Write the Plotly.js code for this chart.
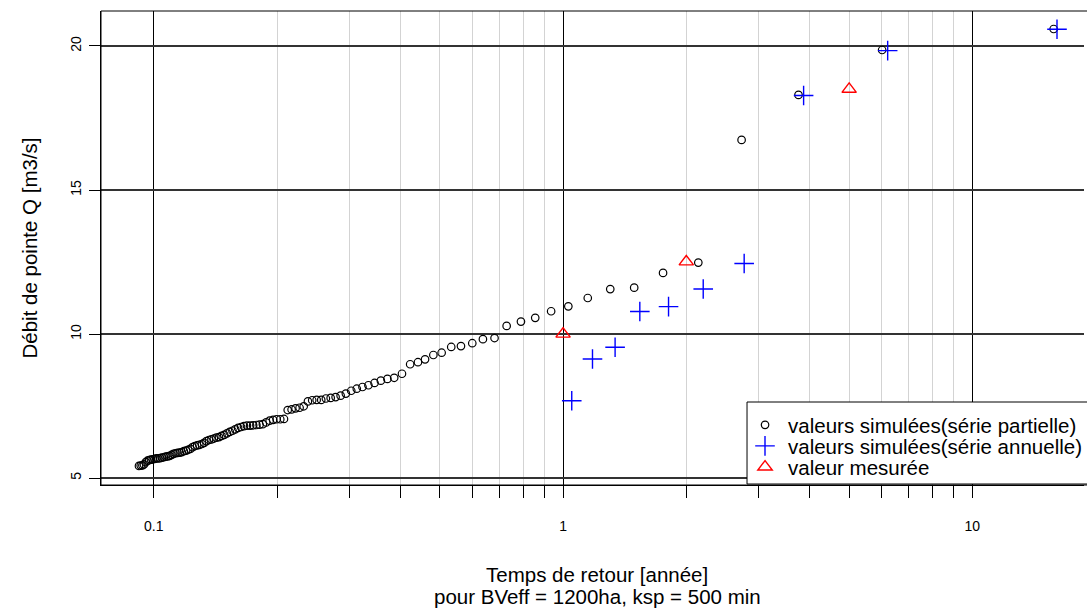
<!DOCTYPE html>
<html><head><meta charset="utf-8">
<script src="https://cdn.plot.ly/plotly-3.0.1.min.js"></script>
<style>html,body{margin:0;padding:0;overflow:hidden;background:#fff}#chart{width:1087px;height:610px}</style>
</head><body><div id="chart"></div>
<script>
// Return periods [years] and peak flows [m3/s] - partial series (simulated)
const periodsPartial = [15.8, 6.02, 3.76, 2.73, 2.14, 1.755, 1.492, 1.304, 1.149, 1.030,
  0.935, 0.855, 0.789, 0.728, 0.680, 0.637, 0.600, 0.563, 0.533, 0.505,
  0.482, 0.460, 0.442, 0.423, 0.404, 0.3867, 0.3722, 0.3587, 0.3462, 0.3345,
  0.3235, 0.3133, 0.3037, 0.2946, 0.2861, 0.2781, 0.2705, 0.2633, 0.2565, 0.2500,
  0.2438, 0.2380, 0.2324, 0.2271, 0.2220, 0.2171, 0.2124, 0.2080, 0.2037, 0.1996,
  0.1957, 0.1919, 0.1882, 0.1847, 0.1813, 0.1781, 0.1749, 0.1719, 0.1689, 0.1661,
  0.1634, 0.1607, 0.1581, 0.1557, 0.1533, 0.1509, 0.1486, 0.1464, 0.1443, 0.1422,
  0.1402, 0.1383, 0.1364, 0.1345, 0.1327, 0.1310, 0.1292, 0.1276, 0.1260, 0.1244,
  0.1228, 0.1213, 0.1199, 0.1184, 0.1170, 0.1157, 0.1143, 0.1130, 0.1117, 0.1105,
  0.1093, 0.1081, 0.1069, 0.1058, 0.1047, 0.1036, 0.1025, 0.1014, 0.1004, 0.0994,
  0.0984, 0.0974, 0.0965, 0.0956, 0.0946, 0.0938, 0.0929, 0.0920];
const flowsPartial = [20.59, 19.86, 18.30, 16.74, 12.48, 12.12, 11.61, 11.56, 11.25, 10.96,
  10.79, 10.56, 10.43, 10.28, 9.86, 9.82, 9.68, 9.58, 9.55, 9.35,
  9.27, 9.12, 9.02, 8.95, 8.62, 8.48, 8.44, 8.38, 8.30, 8.22,
  8.16, 8.10, 8.03, 7.93, 7.86, 7.81, 7.78, 7.76, 7.71, 7.71,
  7.70, 7.66, 7.49, 7.44, 7.42, 7.38, 7.36, 7.05, 7.04, 7.04,
  7.02, 6.99, 6.93, 6.87, 6.85, 6.84, 6.83, 6.82, 6.82, 6.80,
  6.77, 6.74, 6.69, 6.64, 6.60, 6.55, 6.50, 6.46, 6.42, 6.40,
  6.37, 6.34, 6.32, 6.28, 6.22, 6.18, 6.15, 6.13, 6.11, 6.07,
  6.01, 5.98, 5.95, 5.93, 5.90, 5.88, 5.87, 5.86, 5.84, 5.80,
  5.77, 5.75, 5.74, 5.72, 5.71, 5.69, 5.68, 5.68, 5.66, 5.65,
  5.64, 5.62, 5.60, 5.55, 5.47, 5.44, 5.43, 5.42];
// Annual series (simulated)
const periodsAnnual = [16.1, 6.21, 3.87, 2.77, 2.20, 1.81, 1.54, 1.34, 1.18, 1.05];
const flowsAnnual = [20.58, 19.84, 18.28, 12.45, 11.56, 10.95, 10.78, 9.54, 9.13, 7.68];
// Measured values
const periodsMeasured = [1, 2, 5];
const flowsMeasured = [10.0, 12.51, 18.5];

const majorTicks = [0.1, 1, 10];
const majorLabels = ["0.1", "1", "10"];
const minorTicks = [0.2, 0.3, 0.4, 0.5, 0.6, 0.7, 0.8, 0.9, 2, 3, 4, 5, 6, 7, 8, 9];
const yTicks = [5, 10, 15, 20];
const yLabels = ["5", "10", "15", "20"];
const legendNames = ["valeurs simulées(série partielle)", "valeurs simulées(série annuelle)", "valeur mesurée"];
const xTitle = "Temps de retour [année]";
const xSubtitle = "pour BVeff = 1200ha, ksp = 500 min";
const yTitle = "Débit de pointe Q [m3/s]";

const FONT = "'Liberation Sans', Arial, Helvetica, sans-serif";

const traces = [
  {x: periodsPartial, y: flowsPartial, type: 'scatter', mode: 'markers', name: legendNames[0], legend: 'legend',
   marker: {symbol: 'circle-open', size: 7.5, color: '#000000', line: {width: 1.2}}},
  {x: periodsAnnual, y: flowsAnnual, type: 'scatter', mode: 'markers', name: legendNames[1], legend: 'legend2',
   marker: {symbol: 'cross-thin-open', size: 14, color: '#0000ff', line: {width: 1.4, color: '#0000ff'}}},
  {x: periodsMeasured, y: flowsMeasured, type: 'scatter', mode: 'markers', name: legendNames[2], legend: 'legend3',
   marker: {symbol: 'triangle-up-open', size: 12.5, color: '#ff0000', line: {width: 1.4, color: '#ff0000'}}}
];

// plot area: x 101..1087 px, y 11..485 px
const px2paperX = p => (p - 101) / 986;
const px2paperY = p => (485 - p) / 474;

function legendAt(rowY) {
  return {
    x: px2paperX(744), xanchor: 'left', y: px2paperY(rowY), yanchor: 'middle',
    bgcolor: 'rgba(0,0,0,0)', borderwidth: 0, itemwidth: 36,
    font: {size: 20.5, family: FONT, color: '#000000'}
  };
}

const layout = {
  width: 1087, height: 610,
  margin: {l: 101, r: 0, t: 11, b: 125, pad: 0},
  paper_bgcolor: '#ffffff', plot_bgcolor: '#ffffff',
  font: {family: FONT, color: '#000000', size: 14},
  showlegend: true,
  xaxis: {
    type: 'log', range: [Math.log10(0.0743), 1.2728], autorange: false,
    tickmode: 'array', tickvals: majorTicks, ticktext: majorLabels,
    ticks: 'outside', ticklen: 12, tickwidth: 1, tickcolor: '#000000',
    showgrid: true, gridcolor: '#000000', gridwidth: 1,
    showline: true, linecolor: '#000000', linewidth: 1, zeroline: false,
    tickfont: {size: 14, family: FONT, color: '#000000'},
    ticklabelstandoff: 16,
    minor: {tickmode: 'array', tickvals: minorTicks, ticks: 'outside', ticklen: 12, tickwidth: 1,
            tickcolor: '#000000', showgrid: true, gridcolor: '#d3d3d3', gridwidth: 1}
  },
  yaxis: {
    range: [4.757, 21.215], autorange: false,
    tickmode: 'array', tickvals: yTicks, ticktext: yLabels, tickangle: -90,
    ticks: 'outside', ticklen: 11, tickwidth: 1, tickcolor: '#000000',
    showgrid: true, gridcolor: '#333333', gridwidth: 1.5,
    showline: true, linecolor: '#000000', linewidth: 1, zeroline: false,
    tickfont: {size: 14, family: FONT, color: '#000000'},
    ticklabelstandoff: 2,
    title: {text: yTitle, font: {size: 20.5, family: FONT, color: '#000000'}, standoff: 25}
  },
  legend: legendAt(425),
  legend2: legendAt(446),
  legend3: legendAt(467),
  shapes: [
    {type: 'rect', xref: 'paper', yref: 'paper', x0: 0, x1: 1.05, y0: 0, y1: 1,
     line: {color: '#000000', width: 1}, fillcolor: 'rgba(0,0,0,0)', layer: 'above'},
    {type: 'rect', xref: 'paper', yref: 'paper', x0: px2paperX(749), x1: 1.05, y0: px2paperY(484), y1: px2paperY(402),
     line: {color: '#000000', width: 1}, fillcolor: '#ffffff', layer: 'above'}
  ],
  annotations: [
    {text: xTitle, xref: 'paper', yref: 'paper', x: px2paperX(599), y: px2paperY(574),
     xanchor: 'center', yanchor: 'middle', showarrow: false, font: {size: 20.5, family: FONT, color: '#000000'}},
    {text: xSubtitle, xref: 'paper', yref: 'paper', x: px2paperX(599), y: px2paperY(596),
     xanchor: 'center', yanchor: 'middle', showarrow: false, font: {size: 20.5, family: FONT, color: '#000000'}}
  ]
};

Plotly.newPlot('chart', traces, layout, {displayModeBar: false, staticPlot: true});
</script>
</body></html>
